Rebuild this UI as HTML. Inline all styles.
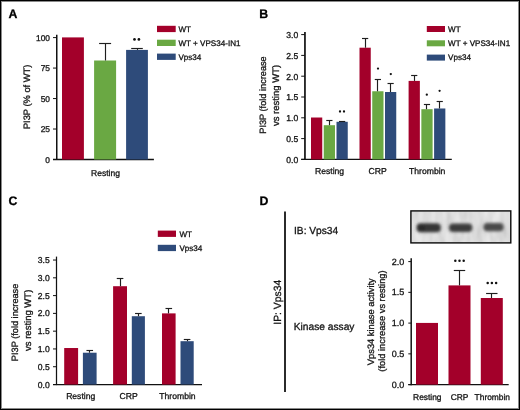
<!DOCTYPE html>
<html><head><meta charset="utf-8"><title>Figure</title>
<style>
html,body{margin:0;padding:0;background:#fff;}
#fig{position:relative;width:520px;height:410px;overflow:hidden;background:#fff;}
#fig svg{position:absolute;left:0;top:0;will-change:transform;}
#frame{position:absolute;left:0;top:0;width:518px;height:408px;border:1px solid #000;}
#frame2{position:absolute;left:1px;top:1px;width:516px;height:406px;border:1px solid #8a8a8a;}
text{font-family:"Liberation Sans", sans-serif;text-rendering:geometricPrecision;stroke:#141414;stroke-width:0.3px;paint-order:stroke;}
</style></head><body>
<div id="fig">
<svg width="520" height="410" viewBox="0 0 520 410" font-family='"Liberation Sans", sans-serif'>
<text x="8.4" y="18.1" font-size="12.3" text-anchor="start" font-weight="bold" fill="#000">A</text>
<line x1="56.75" y1="34.7" x2="56.75" y2="160.1" stroke="#111" stroke-width="1.5"/>
<line x1="53.0" y1="37.6" x2="56.75" y2="37.6" stroke="#111" stroke-width="1.0"/>
<text x="50.0" y="40.7" font-size="8.4" text-anchor="end" fill="#141414">100</text>
<line x1="53.0" y1="68.07" x2="56.75" y2="68.07" stroke="#111" stroke-width="1.0"/>
<text x="50.0" y="71.17" font-size="8.4" text-anchor="end" fill="#141414">75</text>
<line x1="53.0" y1="98.55" x2="56.75" y2="98.55" stroke="#111" stroke-width="1.0"/>
<text x="50.0" y="101.65" font-size="8.4" text-anchor="end" fill="#141414">50</text>
<line x1="53.0" y1="129.03" x2="56.75" y2="129.03" stroke="#111" stroke-width="1.0"/>
<text x="50.0" y="132.12" font-size="8.4" text-anchor="end" fill="#141414">25</text>
<line x1="53.0" y1="159.5" x2="56.75" y2="159.5" stroke="#111" stroke-width="1.0"/>
<text x="50.0" y="162.6" font-size="8.4" text-anchor="end" fill="#141414">0</text>
<line x1="53.0" y1="159.5" x2="153.9" y2="159.5" stroke="#111" stroke-width="1.3"/>
<rect x="62" y="37.4" width="21.9" height="122.1" fill="#a3002a"/>
<rect x="94.1" y="60.5" width="22.0" height="99.0" fill="#6aa843"/>
<rect x="126.1" y="49.9" width="21.8" height="109.6" fill="#2e4b7a"/>
<line x1="105.5" y1="60.5" x2="105.5" y2="43.5" stroke="#1e1e1e" stroke-width="1.15"/>
<line x1="99.1" y1="43.5" x2="111.1" y2="43.5" stroke="#1e1e1e" stroke-width="1.15"/>
<line x1="137.5" y1="49.9" x2="137.5" y2="48.5" stroke="#1e1e1e" stroke-width="1.15"/>
<line x1="131.2" y1="48.5" x2="142.8" y2="48.5" stroke="#1e1e1e" stroke-width="1.15"/>
<circle cx="134.5" cy="39.4" r="1.35" fill="#111"/>
<circle cx="138.9" cy="39.4" r="1.35" fill="#111"/>
<text x="105.5" y="175.6" font-size="8.5" text-anchor="middle" fill="#141414">Resting</text>
<text x="30.3" y="96.9" font-size="9.3" text-anchor="middle" fill="#141414" transform="rotate(-90 30.3 96.9)">PI3P (% of WT)</text>
<rect x="157" y="25.8" width="18.7" height="6.3" fill="#a3002a"/>
<text x="178.4" y="32.1" font-size="8.1" text-anchor="start" fill="#141414">WT</text>
<rect x="157" y="39.7" width="18.7" height="6.3" fill="#6aa843"/>
<text x="178.4" y="46.0" font-size="8.1" text-anchor="start" fill="#141414">WT + VPS34-IN1</text>
<rect x="157" y="53.6" width="18.7" height="6.3" fill="#2e4b7a"/>
<text x="178.4" y="59.9" font-size="8.1" text-anchor="start" fill="#141414">Vps34</text>
<text x="259.3" y="18.1" font-size="12.3" text-anchor="start" font-weight="bold" fill="#000">B</text>
<line x1="304.95" y1="32.1" x2="304.95" y2="160.0" stroke="#111" stroke-width="1.7"/>
<line x1="301.2" y1="34.6" x2="304.95" y2="34.6" stroke="#111" stroke-width="1.0"/>
<text x="298.3" y="37.9" font-size="8.6" text-anchor="end" fill="#141414">3.0</text>
<line x1="301.2" y1="55.4" x2="304.95" y2="55.4" stroke="#111" stroke-width="1.0"/>
<text x="298.3" y="58.7" font-size="8.6" text-anchor="end" fill="#141414">2.5</text>
<line x1="301.2" y1="76.2" x2="304.95" y2="76.2" stroke="#111" stroke-width="1.0"/>
<text x="298.3" y="79.5" font-size="8.6" text-anchor="end" fill="#141414">2.0</text>
<line x1="301.2" y1="97.0" x2="304.95" y2="97.0" stroke="#111" stroke-width="1.0"/>
<text x="298.3" y="100.3" font-size="8.6" text-anchor="end" fill="#141414">1.5</text>
<line x1="301.2" y1="117.8" x2="304.95" y2="117.8" stroke="#111" stroke-width="1.0"/>
<text x="298.3" y="121.1" font-size="8.6" text-anchor="end" fill="#141414">1.0</text>
<line x1="301.2" y1="138.6" x2="304.95" y2="138.6" stroke="#111" stroke-width="1.0"/>
<text x="298.3" y="141.9" font-size="8.6" text-anchor="end" fill="#141414">0.5</text>
<line x1="301.2" y1="159.4" x2="304.95" y2="159.4" stroke="#111" stroke-width="1.0"/>
<text x="298.3" y="162.7" font-size="8.6" text-anchor="end" fill="#141414">0.0</text>
<line x1="301.2" y1="159.4" x2="451.8" y2="159.4" stroke="#111" stroke-width="1.3"/>
<rect x="311.0" y="117.51" width="11.25" height="41.89" fill="#a3002a"/>
<rect x="323.75" y="125.2" width="11.25" height="34.2" fill="#6aa843"/>
<line x1="329.5" y1="125.2" x2="329.5" y2="120.5" stroke="#1e1e1e" stroke-width="1.15"/>
<line x1="326.27" y1="120.5" x2="332.48" y2="120.5" stroke="#1e1e1e" stroke-width="1.15"/>
<rect x="336.5" y="121.79" width="11.25" height="37.61" fill="#2e4b7a"/>
<line x1="342.5" y1="121.79" x2="342.5" y2="121.5" stroke="#1e1e1e" stroke-width="1.15"/>
<line x1="339.02" y1="121.5" x2="345.23" y2="121.5" stroke="#1e1e1e" stroke-width="1.15"/>
<rect x="359.5" y="47.7" width="11.25" height="111.7" fill="#a3002a"/>
<line x1="365.5" y1="47.7" x2="365.5" y2="38.5" stroke="#1e1e1e" stroke-width="1.15"/>
<line x1="362.02" y1="38.5" x2="368.23" y2="38.5" stroke="#1e1e1e" stroke-width="1.15"/>
<rect x="372.25" y="91.26" width="11.25" height="68.14" fill="#6aa843"/>
<line x1="377.5" y1="91.26" x2="377.5" y2="79.5" stroke="#1e1e1e" stroke-width="1.15"/>
<line x1="374.77" y1="79.5" x2="380.98" y2="79.5" stroke="#1e1e1e" stroke-width="1.15"/>
<rect x="385.0" y="92.01" width="11.25" height="67.39" fill="#2e4b7a"/>
<line x1="390.5" y1="92.01" x2="390.5" y2="83.5" stroke="#1e1e1e" stroke-width="1.15"/>
<line x1="387.52" y1="83.5" x2="393.73" y2="83.5" stroke="#1e1e1e" stroke-width="1.15"/>
<rect x="408.6" y="80.9" width="11.25" height="78.5" fill="#a3002a"/>
<line x1="414.5" y1="80.9" x2="414.5" y2="75.5" stroke="#1e1e1e" stroke-width="1.15"/>
<line x1="411.12" y1="75.5" x2="417.33" y2="75.5" stroke="#1e1e1e" stroke-width="1.15"/>
<rect x="421.35" y="109.19" width="11.25" height="50.21" fill="#6aa843"/>
<line x1="426.5" y1="109.19" x2="426.5" y2="104.5" stroke="#1e1e1e" stroke-width="1.15"/>
<line x1="423.88" y1="104.5" x2="430.08" y2="104.5" stroke="#1e1e1e" stroke-width="1.15"/>
<rect x="434.1" y="108.48" width="11.25" height="50.92" fill="#2e4b7a"/>
<line x1="439.5" y1="108.48" x2="439.5" y2="101.5" stroke="#1e1e1e" stroke-width="1.15"/>
<line x1="436.62" y1="101.5" x2="442.83" y2="101.5" stroke="#1e1e1e" stroke-width="1.15"/>
<circle cx="340.0" cy="111.5" r="1.15" fill="#111"/>
<circle cx="344.0" cy="111.5" r="1.15" fill="#111"/>
<circle cx="378.0" cy="68.6" r="1.15" fill="#111"/>
<circle cx="390.8" cy="74.1" r="1.15" fill="#111"/>
<circle cx="426.8" cy="94.7" r="1.15" fill="#111"/>
<circle cx="439.6" cy="90.8" r="1.15" fill="#111"/>
<text x="329.6" y="173.6" font-size="8.6" text-anchor="middle" fill="#141414">Resting</text>
<text x="377.6" y="173.6" font-size="8.6" text-anchor="middle" fill="#141414">CRP</text>
<text x="427.2" y="173.6" font-size="8.6" text-anchor="middle" fill="#141414">Thrombin</text>
<text x="266.2" y="95.0" font-size="9.2" text-anchor="middle" fill="#141414" transform="rotate(-90 266.2 95.0)">PI3P (fold increase</text>
<text x="279.4" y="95.5" font-size="9.5" text-anchor="middle" fill="#141414" transform="rotate(-90 279.4 95.5)">vs resting WT)</text>
<rect x="426.8" y="26.0" width="18.2" height="6.0" fill="#a3002a"/>
<text x="448.0" y="31.8" font-size="8.1" text-anchor="start" fill="#141414">WT</text>
<rect x="426.8" y="40.3" width="18.2" height="6.0" fill="#6aa843"/>
<text x="448.0" y="46.1" font-size="8.1" text-anchor="start" fill="#141414">WT + VPS34-IN1</text>
<rect x="426.8" y="54.6" width="18.2" height="6.0" fill="#2e4b7a"/>
<text x="448.0" y="60.4" font-size="8.1" text-anchor="start" fill="#141414">Vps34</text>
<text x="8.5" y="205.2" font-size="12.3" text-anchor="start" font-weight="bold" fill="#000">C</text>
<line x1="56.5" y1="256.6" x2="56.5" y2="385.1" stroke="#111" stroke-width="1.25"/>
<line x1="53.0" y1="260.04" x2="56.5" y2="260.04" stroke="#111" stroke-width="1.0"/>
<text x="49.8" y="263.04" font-size="8.6" text-anchor="end" fill="#141414">3.5</text>
<line x1="53.0" y1="277.82" x2="56.5" y2="277.82" stroke="#111" stroke-width="1.0"/>
<text x="49.8" y="280.82" font-size="8.6" text-anchor="end" fill="#141414">3.0</text>
<line x1="53.0" y1="295.6" x2="56.5" y2="295.6" stroke="#111" stroke-width="1.0"/>
<text x="49.8" y="298.6" font-size="8.6" text-anchor="end" fill="#141414">2.5</text>
<line x1="53.0" y1="313.38" x2="56.5" y2="313.38" stroke="#111" stroke-width="1.0"/>
<text x="49.8" y="316.38" font-size="8.6" text-anchor="end" fill="#141414">2.0</text>
<line x1="53.0" y1="331.16" x2="56.5" y2="331.16" stroke="#111" stroke-width="1.0"/>
<text x="49.8" y="334.16" font-size="8.6" text-anchor="end" fill="#141414">1.5</text>
<line x1="53.0" y1="348.94" x2="56.5" y2="348.94" stroke="#111" stroke-width="1.0"/>
<text x="49.8" y="351.94" font-size="8.6" text-anchor="end" fill="#141414">1.0</text>
<line x1="53.0" y1="366.72" x2="56.5" y2="366.72" stroke="#111" stroke-width="1.0"/>
<text x="49.8" y="369.72" font-size="8.6" text-anchor="end" fill="#141414">0.5</text>
<line x1="53.0" y1="384.5" x2="56.5" y2="384.5" stroke="#111" stroke-width="1.0"/>
<text x="49.8" y="387.5" font-size="8.6" text-anchor="end" fill="#141414">0.0</text>
<line x1="53.0" y1="384.5" x2="202.0" y2="384.5" stroke="#111" stroke-width="1.25"/>
<rect x="64.2" y="348.02" width="13.9" height="36.48" fill="#a3002a"/>
<rect x="82.9" y="352.71" width="13.7" height="31.79" fill="#2e4b7a"/>
<line x1="89.5" y1="352.71" x2="89.5" y2="350.5" stroke="#1e1e1e" stroke-width="1.15"/>
<line x1="86.45" y1="350.5" x2="93.05" y2="350.5" stroke="#1e1e1e" stroke-width="1.15"/>
<rect x="113.1" y="286.21" width="13.9" height="98.29" fill="#a3002a"/>
<line x1="120.5" y1="286.21" x2="120.5" y2="278.5" stroke="#1e1e1e" stroke-width="1.15"/>
<line x1="116.75" y1="278.5" x2="123.35" y2="278.5" stroke="#1e1e1e" stroke-width="1.15"/>
<rect x="131.8" y="316.22" width="13.1" height="68.28" fill="#2e4b7a"/>
<line x1="138.5" y1="316.22" x2="138.5" y2="313.5" stroke="#1e1e1e" stroke-width="1.15"/>
<line x1="135.05" y1="313.5" x2="141.65" y2="313.5" stroke="#1e1e1e" stroke-width="1.15"/>
<rect x="162.0" y="313.38" width="13.6" height="71.12" fill="#a3002a"/>
<line x1="168.5" y1="313.38" x2="168.5" y2="308.5" stroke="#1e1e1e" stroke-width="1.15"/>
<line x1="165.5" y1="308.5" x2="172.1" y2="308.5" stroke="#1e1e1e" stroke-width="1.15"/>
<rect x="180.5" y="341.19" width="13.2" height="43.31" fill="#2e4b7a"/>
<line x1="187.5" y1="341.19" x2="187.5" y2="339.5" stroke="#1e1e1e" stroke-width="1.15"/>
<line x1="183.8" y1="339.5" x2="190.4" y2="339.5" stroke="#1e1e1e" stroke-width="1.15"/>
<text x="80.7" y="398.5" font-size="8.6" text-anchor="middle" fill="#141414">Resting</text>
<text x="128.65" y="398.5" font-size="8.6" text-anchor="middle" fill="#141414">CRP</text>
<text x="177.5" y="398.5" font-size="8.6" text-anchor="middle" fill="#141414">Thrombin</text>
<text x="18.0" y="322.4" font-size="9.2" text-anchor="middle" fill="#141414" transform="rotate(-90 18.0 322.4)">PI3P (fold increase</text>
<text x="31.3" y="320.3" font-size="9.5" text-anchor="middle" fill="#141414" transform="rotate(-90 31.3 320.3)">vs resting WT)</text>
<rect x="157.8" y="230.6" width="18.2" height="6.3" fill="#a3002a"/>
<text x="179.4" y="236.8" font-size="8.1" text-anchor="start" fill="#141414">WT</text>
<rect x="157.8" y="244.8" width="18.2" height="6.3" fill="#2e4b7a"/>
<text x="179.4" y="251.0" font-size="8.1" text-anchor="start" fill="#141414">Vps34</text>
<text x="259.5" y="205.2" font-size="12.3" text-anchor="start" font-weight="bold" fill="#000">D</text>
<line x1="285.0" y1="211.5" x2="285.0" y2="392.0" stroke="#2b2b2b" stroke-width="2.0"/>
<text x="294.0" y="234.2" font-size="10.2" text-anchor="start" fill="#141414">IB: Vps34</text>
<text x="293.8" y="329.5" font-size="10.2" text-anchor="start" fill="#141414">Kinase assay</text>
<text x="280.6" y="302.2" font-size="10.4" text-anchor="middle" fill="#141414" transform="rotate(-90 280.6 302.2)">IP: Vps34</text>
<defs><filter id="bl" x="-30%" y="-80%" width="160%" height="260%"><feGaussianBlur stdDeviation="1.35"/></filter><filter id="nz" x="0" y="0" width="100%" height="100%"><feTurbulence type="fractalNoise" baseFrequency="0.13 0.045" numOctaves="2" seed="7" result="t"/><feColorMatrix in="t" type="matrix" values="0.5 0 0 0 0.55  0.5 0 0 0 0.55  0.5 0 0 0 0.55  0 0 0 0 0.55"/></filter><clipPath id="bc"><rect x="411.6" y="211.6" width="98.5" height="30.6"/></clipPath></defs>
<rect x="410.9" y="210.9" width="99.9" height="32.0" fill="#d3d3d3"/>
<rect x="411.6" y="211.6" width="98.5" height="30.6" filter="url(#nz)" clip-path="url(#bc)"/>
<g filter="url(#bl)"><rect x="416.6" y="223.3" width="24.2" height="8.9" rx="4" fill="#363636"/><ellipse cx="421" cy="227.7" rx="4.2" ry="3.8" fill="#2a2a2a"/><rect x="449.0" y="223.5" width="23.4" height="8.6" rx="4" fill="#3a3a3a"/><rect x="483.4" y="222.9" width="20.2" height="8.3" rx="4" fill="#4a4a4a"/></g>
<rect x="410.9" y="210.9" width="99.9" height="32.0" fill="none" stroke="#0a0a0a" stroke-width="1.4"/>
<line x1="411.2" y1="258.3" x2="411.2" y2="385.2" stroke="#111" stroke-width="1.5"/>
<line x1="408.3" y1="261.6" x2="411.2" y2="261.6" stroke="#111" stroke-width="1.0"/>
<text x="404.3" y="264.7" font-size="9.0" text-anchor="end" fill="#141414">2.0</text>
<line x1="408.3" y1="292.35" x2="411.2" y2="292.35" stroke="#111" stroke-width="1.0"/>
<text x="404.3" y="295.45" font-size="9.0" text-anchor="end" fill="#141414">1.5</text>
<line x1="408.3" y1="323.1" x2="411.2" y2="323.1" stroke="#111" stroke-width="1.0"/>
<text x="404.3" y="326.2" font-size="9.0" text-anchor="end" fill="#141414">1.0</text>
<line x1="408.3" y1="353.85" x2="411.2" y2="353.85" stroke="#111" stroke-width="1.0"/>
<text x="404.3" y="356.95" font-size="9.0" text-anchor="end" fill="#141414">0.5</text>
<line x1="408.3" y1="384.6" x2="411.2" y2="384.6" stroke="#111" stroke-width="1.0"/>
<text x="404.3" y="387.7" font-size="9.0" text-anchor="end" fill="#141414">0.0</text>
<line x1="408.3" y1="384.6" x2="508.7" y2="384.6" stroke="#111" stroke-width="1.25"/>
<rect x="416.0" y="322.92" width="22.0" height="61.68" fill="#a3002a"/>
<rect x="448.5" y="285.4" width="22.0" height="99.2" fill="#a3002a"/>
<line x1="459.5" y1="285.4" x2="459.5" y2="270.5" stroke="#1e1e1e" stroke-width="1.15"/>
<line x1="453.8" y1="270.5" x2="465.2" y2="270.5" stroke="#1e1e1e" stroke-width="1.15"/>
<rect x="480.8" y="298.01" width="22.0" height="86.59" fill="#a3002a"/>
<line x1="491.5" y1="298.01" x2="491.5" y2="293.5" stroke="#1e1e1e" stroke-width="1.15"/>
<line x1="486.1" y1="293.5" x2="497.5" y2="293.5" stroke="#1e1e1e" stroke-width="1.15"/>
<circle cx="455.3" cy="260.7" r="1.25" fill="#111"/>
<circle cx="459.5" cy="260.7" r="1.25" fill="#111"/>
<circle cx="463.7" cy="260.7" r="1.25" fill="#111"/>
<circle cx="487.7" cy="283.0" r="1.25" fill="#111"/>
<circle cx="491.9" cy="283.0" r="1.25" fill="#111"/>
<circle cx="496.1" cy="283.0" r="1.25" fill="#111"/>
<text x="427.3" y="399.5" font-size="8.4" text-anchor="middle" fill="#141414">Resting</text>
<text x="459.6" y="399.5" font-size="8.4" text-anchor="middle" fill="#141414">CRP</text>
<text x="492.3" y="399.5" font-size="8.4" text-anchor="middle" fill="#141414">Thrombin</text>
<text x="373.6" y="321.7" font-size="9.3" text-anchor="middle" fill="#141414" transform="rotate(-90 373.6 321.7)">Vps34 kinase activity</text>
<text x="385.4" y="321.0" font-size="9.3" text-anchor="middle" fill="#141414" transform="rotate(-90 385.4 321.0)">(fold increase vs resting)</text>
</svg>
<div id="frame2"></div>
<div id="frame"></div>
</div>
</body></html>
